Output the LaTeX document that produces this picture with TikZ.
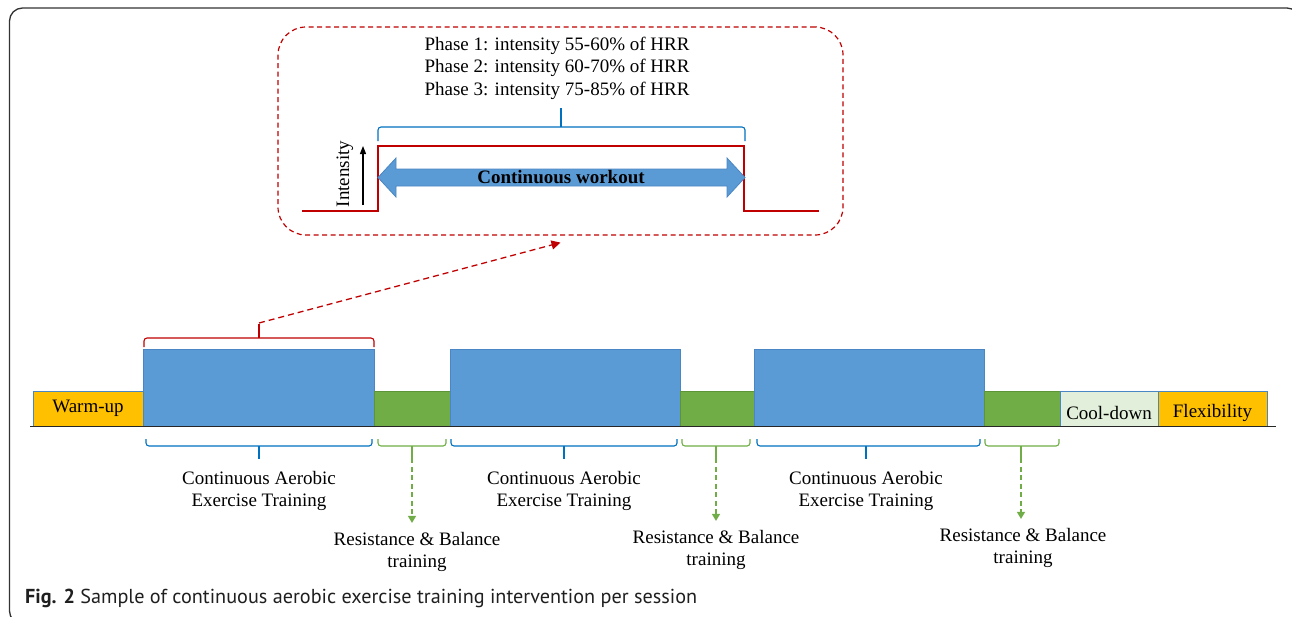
\documentclass[tikz,border=0pt]{standalone}
\usepackage{fontspec}
\usepackage{graphicx}
\setmainfont{Liberation Serif}
\newfontfamily\capfont{PT Sans}
\usetikzlibrary{arrows.meta}
\definecolor{cred}{HTML}{C00000}
\definecolor{cbrace}{HTML}{0070C0}
\definecolor{cblue}{HTML}{5B9BD5}
\definecolor{cblueedge}{HTML}{4A86C3}
\definecolor{cgreen}{HTML}{70AD47}
\definecolor{cgreenedge}{HTML}{5E9438}
\definecolor{corange}{HTML}{FFC000}
\definecolor{ccool}{HTML}{E2EFDA}
\begin{document}
\begin{tikzpicture}[x=1pt,y=-1pt,
  font=\fontsize{19}{22.5}\selectfont,
  blk/.style={anchor=south west, inner sep=0pt, outer sep=0pt, line width=0.8pt, draw=cblueedge},
  cblk/.style={blk, fill=cblue, minimum height=77pt},
  gblk/.style={blk, fill=cgreen, draw=cgreenedge, minimum height=35pt},
  lowblk/.style={blk, minimum height=35pt},
  bbrace/.style={draw=cbrace, line width=1.1pt, rounded corners=3pt},
  gbrace/.style={draw=cgreen, line width=1.1pt, rounded corners=3pt},
  rbrace/.style={draw=cred, line width=1.1pt, rounded corners=3pt},
  garrow/.style={draw=cgreen, line width=1.3pt, dash pattern=on 5pt off 3.5pt, -{Triangle[length=7pt,width=8pt]}},
  lbl/.style={align=center, inner sep=0pt}
]
\useasboundingbox (0,0) rectangle (1292,616);
\clip (0,0) rectangle (1292,616);
% outer frame
\draw[line width=1.3pt, black!80, rounded corners=13pt] (9.5,8) rectangle (1300,624);

% ---------- zoom box ----------
\node[draw=cred, line width=1.2pt, dash pattern=on 5pt off 3.5pt, rounded corners=28pt,
      minimum width=565pt, minimum height=208pt, inner sep=0pt] (zoombox) at (560.5,131) {};
\node[lbl] (phases) at (557,68) {Phase 1: intensity 55-60\% of HRR\\Phase 2: intensity 60-70\% of HRR\\Phase 3: intensity 75-85\% of HRR};
% blue brace above workout
\draw[bbrace] (378,141) -- (378,127) -- (745,127) -- (745,141);
\draw[bbrace] (561,127) -- (561,108);
% step profile
\draw[cred, line width=2pt] (302,211) -- (378,211) -- (378,146) -- (744,146) -- (744,211) -- (819,211);
% intensity axis
\coordinate (ia) at (363,205);
\coordinate (ib) at (363,146);
\draw[line width=1.3pt, -{Triangle[length=8pt,width=6pt]}] (ia) -- (ib);
\node[rotate=90, inner sep=0pt] (inten) at (345,174) {Intensity};
% double arrow
\filldraw[fill=cblue, draw=cblueedge, line width=0.8pt]
  (378,177.5) -- (396,158) -- (396,169) -- (727,169) -- (727,158) -- (745,177.5)
  -- (727,197) -- (727,186) -- (396,186) -- (396,197) -- cycle;
\node[inner sep=0pt] (cw) at (561,177.5) {\textbf{Continuous workout}};

% ---------- timeline blocks ----------
\node[lowblk, fill=corange, minimum width=110pt] (warm) at (33,426) {Warm-up};
\node[cblk, minimum width=231pt] (cb1) at (143,426) {};
\node[gblk, minimum width=76pt] (g1) at (374,426) {};
\node[cblk, minimum width=230pt] (cb2) at (450,426) {};
\node[gblk, minimum width=74pt] (g2) at (680,426) {};
\node[cblk, minimum width=230pt] (cb3) at (754,426) {};
\node[gblk, minimum width=76pt] (g3) at (984,426) {};
\node[lowblk, fill=ccool, minimum width=98pt] (cool) at (1060,426) {\raisebox{-4pt}[\height][\depth]{Cool-down}};
\node[lowblk, fill=corange, minimum width=109pt] (flex) at (1158,426) {\raisebox{-4pt}[\height][\depth]{Flexibility}};
\draw[line width=1.6pt, black!85] (30,426.5) -- (1276,426.5);

% red brace and link to zoom box
\draw[rbrace] (144,347) -- (144,338) -- (374,338) -- (374,347);
\draw[rbrace] (259,338) -- (259,324);
\coordinate (rt) at (259,323);
\draw[cred, line width=1.3pt, dash pattern=on 6pt off 4pt, -{Triangle[length=9pt,width=9pt]}] (rt) -- ([yshift=-7pt]zoombox.south);

% bottom braces
\draw[bbrace] (146,439) -- (146,446) -- (372,446) -- (372,439);
\draw[bbrace] (259,446) -- (259,459);
\draw[bbrace] (451,439) -- (451,446) -- (677,446) -- (677,439);
\draw[bbrace] (564,446) -- (564,459);
\draw[bbrace] (757,439) -- (757,446) -- (980,446) -- (980,439);
\draw[bbrace] (866,446) -- (866,459);

\draw[gbrace] (378,439) -- (378,446) -- (446,446) -- (446,439);
\draw[gbrace] (412,446) -- (412,458);
\draw[gbrace] (682,439) -- (682,446) -- (750,446) -- (750,439);
\draw[gbrace] (716,446) -- (716,458);
\draw[gbrace] (985,439) -- (985,446) -- (1059,446) -- (1059,439);
\draw[gbrace] (1021,446) -- (1021,458);

% labels
\node[lbl] (ca1) at (259,491) {Continuous Aerobic\\Exercise Training};
\node[lbl] (ca2) at (564,491) {Continuous Aerobic\\Exercise Training};
\node[lbl] (ca3) at (866,491) {Continuous Aerobic\\Exercise Training};
\node[lbl] (rb1) at (417,552) {Resistance \& Balance\\training};
\node[lbl] (rb2) at (716,550) {Resistance \& Balance\\training};
\node[lbl] (rb3) at (1023,548) {Resistance \& Balance\\training};

\coordinate (gt1) at (412,458);
\coordinate (gt2) at (716,458);
\coordinate (gt3) at (1021,458);
\draw[garrow, shorten >=9pt] (gt1) -- (gt1 |- rb1.north);
\draw[garrow, shorten >=9pt] (gt2) -- (gt2 |- rb2.north);
\draw[garrow, shorten >=9pt] (gt3) -- (gt3 |- rb3.north);

% caption
\node[anchor=west, inner sep=0pt, text=black!88] (cap) at (25,598)
  {\resizebox{672pt}{!}{\capfont\fontsize{19}{22}\selectfont\textbf{Fig. 2} Sample of continuous aerobic exercise training intervention per session}};
\end{tikzpicture}
\end{document}
